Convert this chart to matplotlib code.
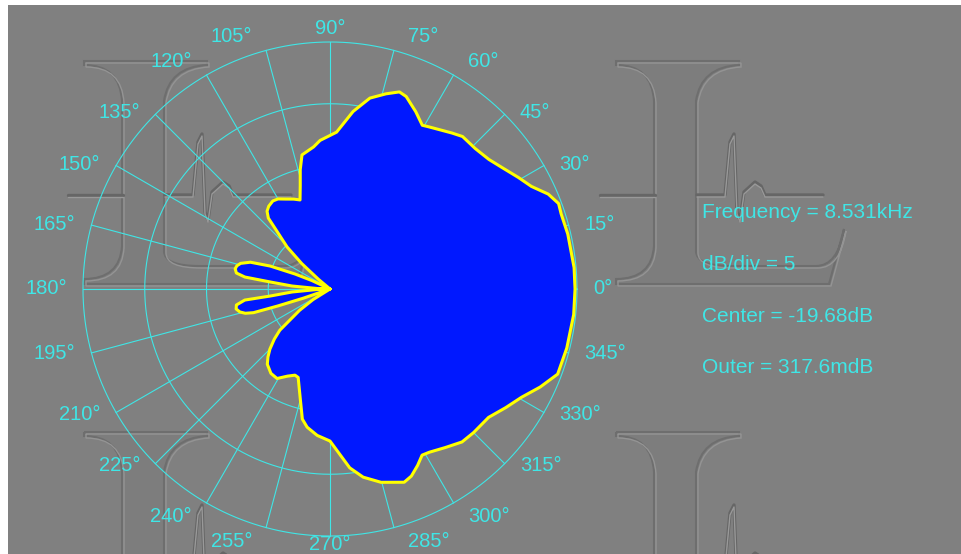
import numpy as np
import matplotlib.pyplot as plt
from matplotlib.path import Path
from matplotlib.patches import PathPatch, Rectangle

plt.rcParams['font.family'] = ['Liberation Sans', 'DejaVu Sans']

# measured polar response: bearing (deg) and level (dB)
bearing_deg = [0, 5, 13, 18, 20.5, 23.5, 27, 30.6, 35, 39.2, 44, 49, 52, 58.6, 60.6,
               64.2, 68.4, 70.6, 74, 78.2, 82.6, 87.6, 93.8, 96.6, 101.8, 104, 106,
               108.6, 112, 116, 120, 123, 126.5, 129, 131, 132.5, 135.6, 138, 140,
               142, 153, 155, 156.8, 159, 161.4, 164, 166, 168, 170.3, 172, 173.3,
               175.5, 178, 180, 182, 184.5, 186.7, 187.4, 189.7, 192, 194.3, 196,
               197.2, 198, 199, 201, 208, 212, 215, 219.4, 222, 225, 227.6, 230.2,
               235, 239.4, 244, 247.9, 250.2, 254.9, 258, 260.6, 265, 270, 276.3,
               280, 284.8, 291, 293.5, 296.4, 299, 301.3, 306, 310.8, 315, 321, 326,
               330.5, 335, 339.5, 346, 354, 360]
level_db = [0.16, 0.16, 0.08, 0.00, 0.08, -0.41, -1.38, -1.95, -2.60, -3.08, -3.32,
            -3.32, -3.65, -4.30, -4.46, -3.73, -2.92, -2.76, -3.24, -3.89, -5.19,
            -6.97, -7.62, -8.10, -8.59, -9.72, -10.94, -12.07, -11.83, -11.58,
            -11.26, -11.18, -11.34, -11.58, -12.07, -13.28, -14.82, -16.60, -18.47,
            -21.0, -21.0, -18.06, -16.60, -14.50, -12.88, -12.15, -11.91, -11.83,
            -11.99, -12.72, -14.82, -16.60, -18.71, -21.0, -18.71, -16.60, -14.82,
            -12.72, -11.99, -11.91, -12.15, -12.55, -13.20, -15.23, -17.41, -21.0,
            -21.0, -18.06, -16.68, -14.42, -13.61, -12.80, -12.23, -11.75, -11.34,
            -11.26, -11.83, -12.15, -12.07, -10.45, -8.91, -8.34, -7.78, -7.37,
            -5.11, -4.21, -3.49, -2.92, -3.16, -3.73, -4.30, -4.21, -3.81, -3.32,
            -3.24, -3.16, -2.51, -1.87, -0.90, 0.00, 0.08, 0.16, 0.16]

frequency_khz = 8.531
db_per_div = 5
center_db = -19.68
outer_db = 0.3176
n_div = 4
tick_angles = list(range(0, 360, 15))

CYAN = '#3fe6e6'
GRAY = '#808080'
BLUE = '#0018ff'
YELLOW = '#ffff00'

W, H = 962, 554
fig = plt.figure(figsize=(W / 100, H / 100), dpi=100, facecolor='white')

# background panel with the embossed logo tiles (pixel coordinates)
bg = fig.add_axes([0, 0, 1, 1])
bg.set_xlim(0, W)
bg.set_ylim(H, 0)
bg.axis('off')
bg.add_patch(Rectangle((8, 5), W - 8, H - 5, facecolor=GRAY, edgecolor='none'))

L_verts = [(0, 0), (123, 0), (123, 4), (85, 6), (80, 40), (80, 190), (80, 205),
           (115, 205), (200, 205), (222, 205), (228, 168), (213, 223), (0, 223),
           (0, 218), (36, 218), (38, 185), (38, 40), (36, 4), (0, 4), (0, 0)]
L_codes = [Path.MOVETO, Path.LINETO, Path.LINETO, Path.CURVE3, Path.CURVE3,
           Path.LINETO, Path.CURVE3, Path.CURVE3, Path.LINETO, Path.CURVE3,
           Path.CURVE3, Path.LINETO, Path.LINETO, Path.LINETO, Path.CURVE3,
           Path.CURVE3, Path.LINETO, Path.CURVE3, Path.CURVE3, Path.CLOSEPOLY]
pulse_x = [80, 108, 113, 117, 120, 123, 127, 138, 144, 148, 206]
pulse_y = [133, 133, 80, 72, 150, 158, 130, 120, 124, 133, 133]


def draw_logo(x0, y0):
    verts = [(x0 + vx, y0 + vy) for vx, vy in L_verts]
    bg.add_patch(PathPatch(Path(verts, L_codes), facecolor='#7d7d7d',
                           edgecolor='none'))
    for dx, dy, col, lw in [(-1, -1, '#6e6e6e', 1.5), (1, 1, '#949494', 1.0)]:
        verts = [(x0 + vx + dx, y0 + vy + dy) for vx, vy in L_verts]
        bg.add_patch(PathPatch(Path(verts, L_codes), facecolor='none',
                               edgecolor=col, lw=lw))
    for dy, col, lw in [(0, '#666666', 2.4), (2, '#999999', 1.0)]:
        bg.plot([x0 - 17, x0 + 38], [y0 + 133 + dy] * 2, color=col, lw=lw,
                solid_capstyle='round')
        bg.plot([x0 + v for v in pulse_x], [y0 + v + dy for v in pulse_y],
                color=col, lw=lw, solid_capstyle='round')


for tx in (85, 617):
    for ty in (62, 433):
        draw_logo(tx, ty)

# polar plot: centre at (330, 289) px, outer ring radius 247 px
CX, CY, R_PX = 330, 289, 247
pax = fig.add_axes([(CX - R_PX) / W, (H - CY - R_PX) / H, 2 * R_PX / W, 2 * R_PX / H],
                   projection='polar')
pax.set_axis_off()
span = n_div * db_per_div
pax.set_ylim(0, span)

th = np.linspace(0, 2 * np.pi, 721)
for k in range(1, n_div + 1):
    pax.plot(th, np.full_like(th, k * db_per_div), color=CYAN, lw=0.8, clip_on=False)

# angle labels: anchored just outside the ring, pushed sideways / up-down
PX = 0.72  # points per pixel at 100 dpi
for a in tick_angles:
    t = np.deg2rad(a)
    c, s = np.cos(t), np.sin(t)
    pax.plot([t, t], [0, span], color=CYAN, lw=0.8, clip_on=False)
    if abs(c) < 1e-9:
        ha, dx = 'center', 0
    else:
        ha, dx = ('left', 13) if c > 0 else ('right', -13)
    dy = 0
    if abs(s) > abs(c) + 1e-9:
        dy = 11 if s > 0 else -min(11, H - 9 - (CY + 250 * abs(s)))
    pax.annotate(f"{a}°", xy=(t, 250 / R_PX * span), xytext=(dx * PX, dy * PX),
                 textcoords='offset points', ha=ha, va='center',
                 color=CYAN, fontsize=14.5, annotation_clip=False)

theta = np.deg2rad(bearing_deg)
radius = np.clip(np.array(level_db) - center_db, 0, None)
pax.fill(theta, radius, facecolor=BLUE, edgecolor=YELLOW, lw=2.2,
         joinstyle='round', zorder=3, clip_on=False)

info = [f"Frequency = {frequency_khz}kHz",
        f"dB/div = {db_per_div}",
        f"Center = {center_db}dB",
        f"Outer = {outer_db * 1000:.1f}mdB"]
for i, s in enumerate(info):
    fig.text(702 / W, 1 - (213 + 51.5 * i) / H, s, ha='left', va='center',
             color=CYAN, fontsize=15)

fig.savefig('out.png', dpi=100, facecolor='white')
